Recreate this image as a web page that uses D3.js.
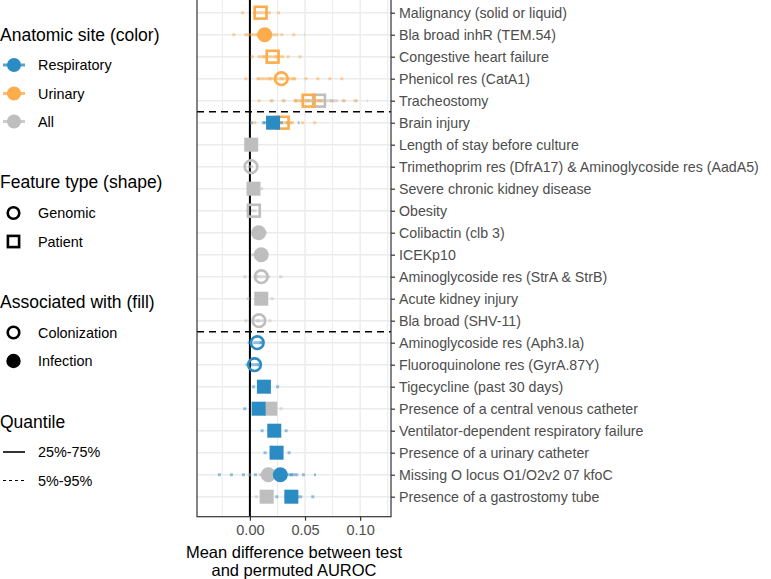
<!DOCTYPE html>
<html>
<head>
<meta charset="utf-8">
<script src="https://cdn.jsdelivr.net/npm/d3@7"></script>
<style>
  html, body { margin: 0; padding: 0; background: #fff; }
  svg { display: block; font-family: "Liberation Sans", Arial, sans-serif; }
</style>
</head>
<body>
<svg id="chart" width="771" height="579"></svg>
<script>
// ---------------- DATA ----------------
const features = [
  "Malignancy (solid or liquid)",
  "Bla broad inhR (TEM.54)",
  "Congestive heart failure",
  "Phenicol res (CatA1)",
  "Tracheostomy",
  "Brain injury",
  "Length of stay before culture",
  "Trimethoprim res (DfrA17) & Aminoglycoside res (AadA5)",
  "Severe chronic kidney disease",
  "Obesity",
  "Colibactin (clb 3)",
  "ICEKp10",
  "Aminoglycoside res (StrA & StrB)",
  "Acute kidney injury",
  "Bla broad (SHV-11)",
  "Aminoglycoside res (Aph3.Ia)",
  "Fluoroquinolone res (GyrA.87Y)",
  "Tigecycline (past 30 days)",
  "Presence of a central venous catheter",
  "Ventilator-dependent respiratory failure",
  "Presence of a urinary catheter",
  "Missing O locus O1/O2v2 07 kfoC",
  "Presence of a gastrostomy tube"
];
// group separators are drawn after these feature indices (0-based)
const separatorsAfter = [4, 14];

// one entry per plotted estimate
const pointFeature = [0, 1, 2, 3, 4, 4, 5, 5, 6, 7, 8, 9, 10, 11, 12, 13, 14, 15, 16, 17, 18, 18, 19, 20, 21, 21, 22, 22];
const pointSite    = ["Urinary","Urinary","Urinary","Urinary","Urinary","All","Urinary","Respiratory",
                      "All","All","All","All","All","All","All","All","All",
                      "Respiratory","Respiratory","Respiratory","Respiratory","All","Respiratory","Respiratory",
                      "All","Respiratory","All","Respiratory"];
const pointType    = ["Patient","Genomic","Patient","Genomic","Patient","Patient","Patient","Patient",
                      "Patient","Genomic","Patient","Patient","Genomic","Genomic","Genomic","Patient","Genomic",
                      "Genomic","Genomic","Patient","Patient","Patient","Patient","Patient",
                      "Genomic","Genomic","Patient","Patient"];
const pointAssoc   = ["Colonization","Infection","Colonization","Colonization","Colonization","Colonization","Colonization","Infection",
                      "Infection","Colonization","Infection","Colonization","Infection","Infection","Colonization","Infection","Colonization",
                      "Colonization","Colonization","Infection","Infection","Infection","Infection","Infection",
                      "Infection","Infection","Infection","Infection"];
const pointMean = [0.0097, 0.0134, 0.0206, 0.0285, 0.0533, 0.0627, 0.0297, 0.0210,
                   0.0012, 0.0010, 0.0033, 0.0036, 0.0079, 0.0103, 0.0103, 0.0103, 0.0082,
                   0.0067, 0.0042, 0.0127, 0.0079, 0.0185, 0.0221, 0.0242,
                   0.0167, 0.0276, 0.0152, 0.0376];
const pointQ05  = [-0.008, -0.016, 0.0006, -0.005, 0.007, 0.019, 0.003, 0.000,
                   -0.002, -0.002, -0.001, -0.0036, 0.002, 0.001, -0.006, -0.003, -0.005,
                   -0.002, -0.004, 0.002, -0.006, 0.005, 0.0097, 0.0124,
                   -0.002, -0.029, 0.0045, 0.023];
const pointQ25  = [0.003, -0.003, 0.007, 0.007, 0.040, 0.045, 0.018, 0.012,
                   0.000, 0.000, 0.001, 0.001, 0.005, 0.006, 0.005, 0.005, 0.003,
                   0.003, 0.001, 0.008, 0.002, 0.012, 0.016, 0.018,
                   0.008, 0.012, 0.010, 0.031];
const pointQ75  = [0.019, 0.026, 0.031, 0.042, 0.067, 0.080, 0.040, 0.030,
                   0.003, 0.003, 0.006, 0.006, 0.011, 0.015, 0.016, 0.016, 0.014,
                   0.011, 0.008, 0.018, 0.014, 0.025, 0.028, 0.030,
                   0.025, 0.043, 0.020, 0.045];
const pointQ95  = [0.031, 0.050, 0.052, 0.085, 0.098, 0.107, 0.068, 0.045,
                   0.004, 0.004, 0.012, 0.0097, 0.016, 0.021, 0.031, 0.022, 0.020,
                   0.015, 0.0127, 0.028, 0.022, 0.037, 0.035, 0.038,
                   0.045, 0.060, 0.024, 0.061];

const xTicks = [0.00, 0.05, 0.10];
const xMinorTicks = [-0.025, 0.025, 0.075, 0.125];
const siteNames = ["Respiratory", "Urinary", "All"];
const siteColors = ["#2b8cc4", "#fcac4a", "#bebebe"];
const typeNames = ["Genomic", "Patient"];
const assocNames = ["Colonization", "Infection"];
const quantileNames = ["25%-75%", "5%-95%"];

// ---------------- LAYOUT ----------------
const svg = d3.select("#chart");
const panel = { left: 197, right: 391, top: -7.3, bottom: 516.7 };

const x = d3.scaleLinear().domain([-0.048, 0.128]).range([panel.left, panel.right]);
const y = d3.scalePoint().domain(features).range([12.7, 496.7]);
const color = d3.scaleOrdinal().domain(siteNames).range(siteColors);

const g = svg.append("g");

// panel background
g.append("rect")
  .attr("x", panel.left).attr("y", panel.top)
  .attr("width", panel.right - panel.left).attr("height", panel.bottom - panel.top)
  .attr("fill", "#fff");

// grid
g.selectAll(".vminor").data(xMinorTicks).join("line")
  .attr("x1", d => x(d)).attr("x2", d => x(d))
  .attr("y1", panel.top).attr("y2", panel.bottom)
  .attr("stroke", "#ebebeb").attr("stroke-width", 1);
g.selectAll(".vmajor").data(xTicks).join("line")
  .attr("x1", d => x(d)).attr("x2", d => x(d))
  .attr("y1", panel.top).attr("y2", panel.bottom)
  .attr("stroke", "#ebebeb").attr("stroke-width", 1.4);
g.selectAll(".hgrid").data(features).join("line")
  .attr("x1", panel.left).attr("x2", panel.right)
  .attr("y1", d => y(d)).attr("y2", d => y(d))
  .attr("stroke", "#ebebeb").attr("stroke-width", 1.4);

// zero line
g.append("line")
  .attr("x1", x(0)).attr("x2", x(0))
  .attr("y1", panel.top).attr("y2", panel.bottom)
  .attr("stroke", "#000").attr("stroke-width", 2);

// separators
const step = y.step();
g.selectAll(".sep").data(separatorsAfter).join("line")
  .attr("x1", panel.left).attr("x2", panel.right)
  .attr("y1", d => y(features[d]) + step / 2).attr("y2", d => y(features[d]) + step / 2)
  .attr("stroke", "#000").attr("stroke-width", 1.6)
  .attr("stroke-dasharray", "7,5");

// points
const order = { "All": 0, "Urinary": 1, "Respiratory": 2 };
const pts = pointFeature.map((f, i) => ({
  feature: features[f], site: pointSite[i], type: pointType[i], assoc: pointAssoc[i],
  mean: pointMean[i], q05: pointQ05[i], q25: pointQ25[i], q75: pointQ75[i], q95: pointQ95[i]
})).sort((a, b) => order[a.site] - order[b.site]);

const ranges = g.append("g");
ranges.selectAll(".q95").data(pts).join("line")
  .attr("x1", d => x(d.q05)).attr("x2", d => x(d.q95))
  .attr("y1", d => y(d.feature)).attr("y2", d => y(d.feature))
  .attr("stroke", d => color(d.site)).attr("stroke-opacity", 0.5)
  .attr("stroke-width", 3).attr("stroke-dasharray", "3,9");
ranges.selectAll(".q75").data(pts).join("line")
  .attr("x1", d => x(d.q25)).attr("x2", d => x(d.q75))
  .attr("y1", d => y(d.feature)).attr("y2", d => y(d.feature))
  .attr("stroke", d => color(d.site)).attr("stroke-opacity", 0.5)
  .attr("stroke-width", 3);

const marks = g.append("g");
pts.forEach(d => {
  const cx = x(d.mean), cy = y(d.feature), c = color(d.site);
  const filled = d.assoc === "Infection";
  if (d.type === "Genomic") {
    if (filled) {
      marks.append("circle").attr("cx", cx).attr("cy", cy).attr("r", 7.5).attr("fill", c);
    } else {
      marks.append("circle").attr("cx", cx).attr("cy", cy).attr("r", 6.3)
        .attr("fill", "#fff").attr("fill-opacity", 0).attr("stroke", c).attr("stroke-width", 2.6);
    }
  } else {
    if (filled) {
      marks.append("rect").attr("x", cx - 7).attr("y", cy - 7).attr("width", 14).attr("height", 14).attr("fill", c);
    } else {
      marks.append("rect").attr("x", cx - 5.9).attr("y", cy - 5.9).attr("width", 11.8).attr("height", 11.8)
        .attr("fill", "none").attr("stroke", c).attr("stroke-width", 2.6);
    }
  }
});

// panel border
g.append("rect")
  .attr("x", panel.left).attr("y", panel.top)
  .attr("width", panel.right - panel.left).attr("height", panel.bottom - panel.top)
  .attr("fill", "none").attr("stroke", "#333").attr("stroke-width", 1.2);

// x axis
const xAxis = d3.axisBottom(x).tickValues(xTicks).tickFormat(d3.format(".2f")).tickSize(4).tickPadding(4);
const gx = svg.append("g").attr("transform", `translate(0,${panel.bottom})`).call(xAxis);
gx.select(".domain").remove();
gx.selectAll(".tick line").attr("stroke", "#333").attr("stroke-width", 1.2);
gx.selectAll(".tick text").attr("fill", "#4d4d4d").attr("font-size", 14.5)
  .attr("font-family", "Liberation Sans, Arial, sans-serif");

svg.append("text").attr("x", (panel.left + panel.right) / 2).attr("y", 558)
  .attr("text-anchor", "middle").attr("font-size", 16.5).attr("fill", "#000")
  .text("Mean difference between test");
svg.append("text").attr("x", (panel.left + panel.right) / 2).attr("y", 576)
  .attr("text-anchor", "middle").attr("font-size", 16.5).attr("fill", "#000")
  .text("and permuted AUROC");

// y axis (right)
const yAxis = d3.axisRight(y).tickSize(4).tickPadding(4);
const gy = svg.append("g").attr("transform", `translate(${panel.right},0)`).call(yAxis);
gy.select(".domain").remove();
gy.selectAll(".tick line").attr("stroke", "#333").attr("stroke-width", 1.2);
gy.selectAll(".tick text").attr("fill", "#4d4d4d").attr("font-size", 14.2)
  .attr("font-family", "Liberation Sans, Arial, sans-serif");

// ---------------- LEGEND ----------------
const leg = svg.append("g");
function title(txt, yy) {
  leg.append("text").attr("x", 0).attr("y", yy).attr("dy", "0.35em")
    .attr("font-size", 17.5).attr("fill", "#000").text(txt);
}
function label(txt, yy) {
  leg.append("text").attr("x", 38).attr("y", yy).attr("dy", "0.35em")
    .attr("font-size", 14.4).attr("fill", "#000").text(txt);
}
title("Anatomic site (color)", 35);
const siteY = [65, 93.5, 121.5];
siteNames.forEach((s, i) => {
  leg.append("line").attr("x1", 3).attr("x2", 25).attr("y1", siteY[i]).attr("y2", siteY[i])
    .attr("stroke", color(s)).attr("stroke-width", 3).attr("stroke-opacity", 0.8);
  leg.append("circle").attr("cx", 14).attr("cy", siteY[i]).attr("r", 7).attr("fill", color(s));
  label(s, siteY[i]);
});

title("Feature type (shape)", 181.5);
const typeY = [213, 241.5];
leg.append("circle").attr("cx", 13.5).attr("cy", typeY[0]).attr("r", 5.8)
  .attr("fill", "none").attr("stroke", "#000").attr("stroke-width", 2.6);
leg.append("rect").attr("x", 13.5 - 5.6).attr("y", typeY[1] - 5.6).attr("width", 11.2).attr("height", 11.2)
  .attr("fill", "none").attr("stroke", "#000").attr("stroke-width", 2.6);
typeNames.forEach((t, i) => label(t, typeY[i]));

title("Associated with (fill)", 301.5);
const assocY = [332.5, 361];
leg.append("circle").attr("cx", 13.5).attr("cy", assocY[0]).attr("r", 5.8)
  .attr("fill", "none").attr("stroke", "#000").attr("stroke-width", 2.6);
leg.append("circle").attr("cx", 13.5).attr("cy", assocY[1]).attr("r", 7.2).attr("fill", "#000");
assocNames.forEach((t, i) => label(t, assocY[i]));

title("Quantile", 421.5);
const quantY = [452, 480.5];
leg.append("line").attr("x1", 3).attr("x2", 25).attr("y1", quantY[0]).attr("y2", quantY[0])
  .attr("stroke", "#000").attr("stroke-width", 1.6);
leg.append("line").attr("x1", 3).attr("x2", 25).attr("y1", quantY[1]).attr("y2", quantY[1])
  .attr("stroke", "#000").attr("stroke-width", 1.2).attr("stroke-dasharray", "3,3");
quantileNames.forEach((t, i) => label(t, quantY[i]));
</script>
</body>
</html>
